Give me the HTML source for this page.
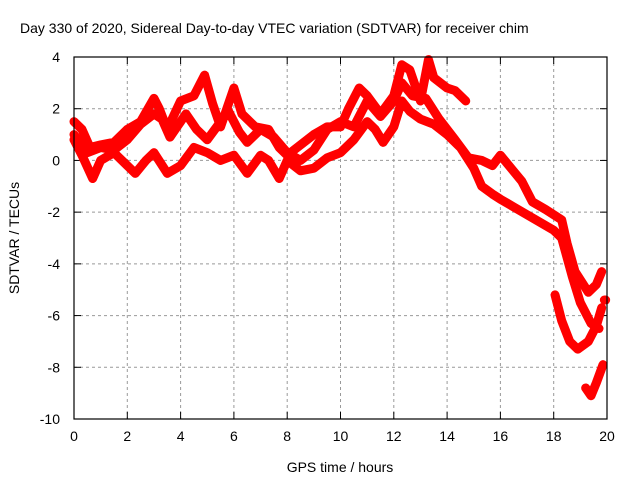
<!DOCTYPE html>
<html><head><meta charset="utf-8"><style>
body{margin:0;background:#fff}
svg{display:block;font-family:"Liberation Sans",sans-serif}
</style></head><body>
<svg id="chart" width="640" height="480" viewBox="0 0 640 480">
<text x="20" y="33" font-size="14">Day 330 of 2020, Sidereal Day-to-day VTEC variation (SDTVAR) for receiver chim</text>
<g id="grid"></g>
<g id="ticks"></g>
<g id="series"></g>
<rect x="74" y="57" width="533" height="362" fill="none" stroke="#000" stroke-width="1.2"/>
<text x="340" y="472" font-size="14" text-anchor="middle">GPS time / hours</text>
<text transform="translate(19,238) rotate(-90)" font-size="14" text-anchor="middle">SDTVAR / TECUs</text>
</svg>
<script>
const xTicks=[0,2,4,6,8,10,12,14,16,18,20];
const yTicks=[4,2,0,-2,-4,-6,-8,-10];
const s1Hours=[0,0.3,0.6,1,1.5,2,2.5,3,3.2,3.5,4,4.5,4.9,5.2,5.5,6,6.3,6.8,7.3,7.7,8,8.5,9,9.5,10,10.3,10.7,11,11.5,12,12.3,12.6,13,13.3,13.5,14,14.3,14.7];
const s1Vals=[1.5,1.2,0.5,0.6,0.7,1.2,1.5,2.4,2.0,1.2,2.3,2.5,3.3,2.2,1.3,2.8,1.8,1.3,1.2,0.5,0.2,0.6,1.0,1.3,1.3,2.0,2.8,2.5,1.8,2.5,3.7,3.5,2.3,3.9,3.2,2.8,2.7,2.3];
const s2Hours=[0,0.5,1,1.5,2,2.5,3,3.3,3.6,4,4.2,4.6,5,5.5,5.8,6.2,6.5,7,7.5,8,8.5,9,9.5,10,10.5,11,11.5,12,12.3,12.7,13.2,13.7,14.3,14.8,15.3,15.7,16,16.4,16.8,17.2,17.7,18.3,18.5,18.8,19.3,19.6,19.8];
const s2Vals=[1.0,0.3,0.5,0.4,0.8,1.4,1.8,1.6,0.9,1.5,1.8,1.2,0.8,1.5,1.9,1.1,0.7,1.2,0.9,0.3,0,0.4,1.2,1.5,1.3,2.3,1.7,2.3,3.0,2.5,2.4,1.6,0.8,0.1,0.0,-0.2,0.2,-0.3,-0.8,-1.6,-1.9,-2.3,-3.2,-4.3,-5.1,-4.8,-4.3];
const s3Hours=[0,0.3,0.7,1,1.5,2,2.3,2.7,3,3.5,4,4.5,5,5.5,6,6.5,7,7.3,7.7,8,8.5,9,9.5,10,10.5,11,11.3,11.6,12,12.3,12.6,13,13.5,14,14.5,15,15.3,15.7,16,16.5,17,17.5,18,18.3,18.7,19,19.4,19.7];
const s3Vals=[0.8,0.2,-0.7,0,0.3,-0.2,-0.5,0,0.3,-0.5,-0.2,0.5,0.3,0,0.2,-0.5,0.2,0,-0.7,0,-0.4,-0.3,0.1,0.3,0.8,1.5,1.2,0.7,1.3,2.3,1.9,1.6,1.4,1.0,0.5,-0.3,-1.0,-1.3,-1.5,-1.8,-2.1,-2.4,-2.7,-3.0,-4.5,-5.5,-6.3,-6.5];
const s4Hours=[18.05,18.3,18.6,18.9,19.3,19.6,19.8];
const s4Vals=[-5.2,-6.2,-7.0,-7.3,-7.0,-6.4,-5.7];
const s5Hours=[19.2,19.4,19.6,19.85];
const s5Vals=[-8.8,-9.1,-8.6,-7.9];
const extraHours=[19.9];
const extraVals=[-5.4];

const NS="http://www.w3.org/2000/svg";
const X=h=>74+(h-0)/20*533;
const Y=v=>57+(4-v)/14*362;
function mk(tag,attrs,parent){const e=document.createElementNS(NS,tag);for(const k in attrs)e.setAttribute(k,attrs[k]);parent.appendChild(e);return e;}
const grid=document.getElementById('grid'),ticks=document.getElementById('ticks'),ser=document.getElementById('series');
xTicks.forEach(t=>{
  if(t>0&&t<20){const l=mk('line',{x1:X(t),x2:X(t),y1:57,y2:419,stroke:'#999','stroke-dasharray':'3,3'},grid);
  
  }
  mk('line',{x1:X(t),x2:X(t),y1:419,y2:412,stroke:'#000'},ticks);
  mk('line',{x1:X(t),x2:X(t),y1:57,y2:64,stroke:'#000'},ticks);
  const tx=mk('text',{x:X(t),y:441,'font-size':14,'text-anchor':'middle'},ticks);tx.textContent=t;
  
  
});
yTicks.forEach(t=>{
  if(t<4&&t>-10){const l=mk('line',{x1:74,x2:607,y1:Y(t),y2:Y(t),stroke:'#999','stroke-dasharray':'3,3'},grid);
  
  }
  mk('line',{x1:74,x2:81,y1:Y(t),y2:Y(t),stroke:'#000'},ticks);
  mk('line',{x1:607,x2:600,y1:Y(t),y2:Y(t),stroke:'#000'},ticks);
  const tx=mk('text',{x:60,y:Y(t)+5,'font-size':14,'text-anchor':'end'},ticks);tx.textContent=t;
  
  
});
function draw(hs,vs,name){
  const pts=hs.map((h,i)=>X(h)+','+Y(vs[i])).join(' ');
  const p=mk('polyline',{points:pts,fill:'none',stroke:'#f00','stroke-width':9,'stroke-linejoin':'round','stroke-linecap':'round'},ser);
  
  
}
draw(s1Hours,s1Vals,'series-day-1');
draw(s2Hours,s2Vals,'series-day-2');
draw(s3Hours,s3Vals,'series-day-3');
draw(s4Hours,s4Vals,'series-day-4');
draw(s5Hours,s5Vals,'series-day-5');
draw(extraHours.concat(extraHours.map(h=>h+0.05)),extraVals.concat(extraVals),'series-isolated-point');
</script>
</body></html>
